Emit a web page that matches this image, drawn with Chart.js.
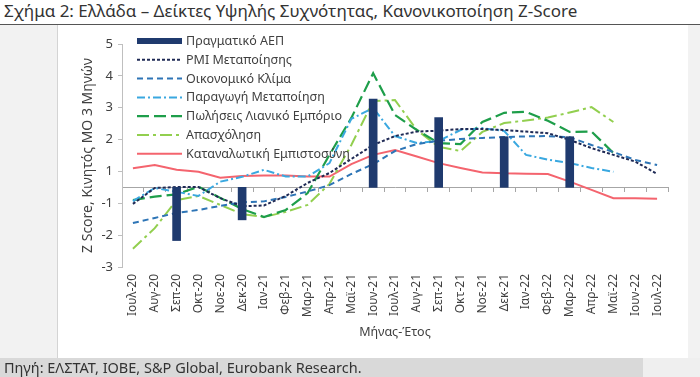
<!DOCTYPE html>
<html><head><meta charset="utf-8">
<script src="https://cdn.jsdelivr.net/npm/chart.js@4.4.1/dist/chart.umd.min.js"></script>
<style>
html,body{margin:0;padding:0;}
body{width:700px;height:377px;position:relative;overflow:hidden;background:#fff;font-family:'Noto Sans',sans-serif;}
#title{position:absolute;left:4px;top:-1px;font-size:17px;color:#333;white-space:nowrap;}
#rule{position:absolute;left:0;top:24px;width:700px;height:1px;background:#555;}
#lstrip{position:absolute;left:0;top:25px;width:57px;height:333px;background:#f2f2f2;border-right:1px solid #d4d4d4;}
#rstrip{position:absolute;left:688px;top:25px;width:12px;height:352px;background:#f2f2f2;}
#panel{position:absolute;left:58px;top:26px;width:630px;height:332px;background:#fff;}
#band{position:absolute;left:0;top:358px;width:643px;height:19px;background:#d9d9d9;font-size:14.5px;color:#333;line-height:19px;padding-left:4px;box-sizing:border-box;white-space:nowrap;}
#band2{position:absolute;left:643px;top:358px;width:57px;height:19px;background:#efefef;}
</style></head><body>
<div id="title">Σχήμα 2: Ελλάδα – Δείκτες Υψηλής Συχνότητας, Κανονικοποίηση Z-Score</div>
<div id="rule"></div>
<div id="lstrip"></div><div id="rstrip"></div>
<div id="panel"><canvas id="c" width="630" height="332" style="width:630px;height:332px;"></canvas></div>
<div id="band">Πηγή: ΕΛΣΤΑΤ, ΙΟΒΕ, S&amp;P Global, Eurobank Research.</div>
<div id="band2"></div>
<script>
const CATEGORIES = ['Ιουλ-20','Αυγ-20','Σεπ-20','Οκτ-20','Νοε-20','Δεκ-20','Ιαν-21','Φεβ-21','Μαρ-21','Απρ-21','Μαϊ-21','Ιουν-21','Ιουλ-21','Αυγ-21','Σεπ-21','Οκτ-21','Νοε-21','Δεκ-21','Ιαν-22','Φεβ-22','Μαρ-22','Απρ-22','Μαϊ-22','Ιουν-22','Ιουλ-22'];
// Y tick labels as printed on the axis, bottom to top (positions -3 ... 4 on the axis)
const Y_TICK_LABELS = ['-3','-2','-1','1','2','3','4','5'];
const ZERO_LINE = -0.5;
const GDP = [null,null,-2.17,null,null,-1.52,null,null,null,null,null,2.27,null,null,1.69,null,null,1.09,null,null,1.09,null,null,null,null];
const PMI = [-1.02,-0.52,-0.49,-0.49,-0.84,-1.09,-1.07,-0.77,-0.36,-0.05,0.39,0.83,1.11,1.25,1.28,1.33,1.33,1.30,1.25,1.20,0.99,0.73,0.52,0.31,-0.08];
const KLIMA = [-1.62,-1.46,-1.30,-1.21,-1.08,-0.97,-0.94,-0.80,-0.63,-0.43,-0.08,0.23,0.64,0.86,0.96,1.02,1.05,1.08,1.10,1.11,1.07,0.83,0.61,0.36,0.20];
const PARAGOGI = [-0.93,-0.52,-0.64,-0.77,-0.32,-0.17,0.05,-0.16,-0.16,0.26,1.65,1.99,1.11,0.89,0.96,1.30,1.36,1.27,0.52,0.37,0.26,0.11,-0.01,null,null];
const POLISEIS = [-0.90,-0.79,-0.72,-0.48,-0.83,-1.18,-1.43,-1.21,-0.68,0.52,1.68,3.08,1.77,1.30,0.89,0.86,1.55,1.84,1.87,1.59,1.24,1.25,0.58,null,null];
const APASXOLISI = [-2.43,-1.78,-0.90,-0.77,-1.05,-1.34,-1.43,-1.27,-1.05,-0.39,0.83,2.21,2.24,1.30,0.77,0.64,1.24,1.52,1.60,1.69,1.85,2.02,1.55,null,null];
const EMPISTOSYNI = [0.10,0.20,0.05,-0.01,-0.20,-0.14,-0.13,-0.13,-0.16,-0.16,0.23,0.52,0.67,0.47,0.26,0.11,-0.03,-0.06,-0.07,-0.08,-0.32,-0.58,-0.84,-0.84,-0.86];

const FONT = "'Noto Sans', sans-serif";
Chart.defaults.font.family = FONT;
Chart.defaults.color = '#404040';

function lineDs(label, data, color, dash, width) {
  return {type:'line', label, data, borderColor:color, backgroundColor:color, borderDash:dash,
    borderWidth:width, pointRadius:0, pointHoverRadius:0, tension:0, fill:false, spanGaps:false};
}

const legendPlugin = {
  id:'insideLegend',
  afterDraw(chart) {
    const ctx = chart.ctx;
    const lx = 79, ly = 15, dy = 18.8, len = 45;
    chart.data.datasets.forEach((ds, i) => {
      const y = ly + i*dy;
      ctx.save();
      if (ds.type === 'bar') {
        ctx.fillStyle = ds.backgroundColor;
        ctx.fillRect(lx, y-3, len, 6);
      } else {
        ctx.strokeStyle = ds.borderColor;
        ctx.lineWidth = ds.borderWidth;
        ctx.setLineDash(ds.borderDash || []);
        ctx.beginPath(); ctx.moveTo(lx, y); ctx.lineTo(lx+len, y); ctx.stroke();
      }
      ctx.setLineDash([]);
      ctx.fillStyle = '#404040';
      ctx.font = "12.5px " + FONT;
      ctx.textBaseline = 'middle';
      ctx.fillText(ds.label, lx+len+4, y+0.5);
      ctx.restore();
    });
  }
};

new Chart(document.getElementById('c'), {
  data: {
    labels: CATEGORIES,
    datasets: [
      {type:'bar', label:'Πραγματικό ΑΕΠ', data:GDP, backgroundColor:'#1f3a6e', base:ZERO_LINE, barThickness:8, xAxisID:'x', yAxisID:'y'},
      lineDs('PMI Μεταποίησης', PMI, '#1f2a55', [3,2], 2),
      lineDs('Οικονομικό Κλίμα', KLIMA, '#2e75b6', [6,4], 2),
      lineDs('Παραγωγή Μεταποίηση', PARAGOGI, '#3aa8e0', [8,3,2,3], 2),
      lineDs('Πωλήσεις Λιανικό Εμπόριο', POLISEIS, '#1e9e4a', [12,5], 2.2),
      lineDs('Απασχόληση', APASXOLISI, '#92cf4f', [12,4,3,4], 2),
      lineDs('Καταναλωτική Εμπιστοσύνη', EMPISTOSYNI, '#f4646e', [], 2)
    ]
  },
  options: {
    responsive:false, animation:false,
    layout:{padding:{left:19, right:20, top:18, bottom:14}},
    plugins:{legend:{display:false}, tooltip:{enabled:false}},
    scales:{
      x:{type:'category', position:'bottom', offset:true,
        grid:{display:false, drawTicks:false}, border:{display:false},
        ticks:{autoSkip:false, minRotation:90, maxRotation:90, padding:7, font:{size:12}, color:'#404040'},
        title:{display:true, text:'Μήνας-Έτος', font:{size:12.5}, color:'#404040', padding:{top:4,bottom:4}},
        afterFit(s){ s.height = 77; }
      },
      x0:{type:'category', axis:'x', position:{y:ZERO_LINE}, offset:true,
        grid:{display:true, drawOnChartArea:false, drawTicks:true, tickLength:4, color:'#a6a6a6', offset:true},
        border:{display:true, color:'#a6a6a6'},
        ticks:{display:false}
      },
      y:{type:'linear', position:'left', min:-3, max:4,
        ticks:{stepSize:1, padding:5, font:{size:13}, color:'#404040',
          callback:(v)=>Y_TICK_LABELS[Math.round(v)+3]},
        grid:{drawOnChartArea:false, drawTicks:true, tickLength:4, color:'#bfbfbf'},
        border:{display:true, color:'#bfbfbf'},
        title:{display:true, text:'Z Score, Κινητός ΜΟ 3 Μηνών', font:{size:14}, color:'#404040', padding:{top:3,bottom:3}},
        afterFit(s){ s.width = 45; }
      }
    }
  },
  plugins:[legendPlugin]
});
</script>
</body></html>
